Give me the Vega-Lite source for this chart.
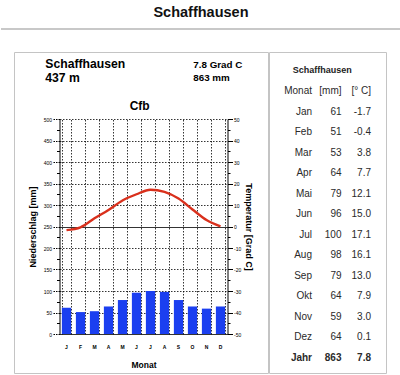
{
  "$schema": "https://vega.github.io/schema/vega-lite/v6.json",
  "padding": 0,
  "background": "white",
  "config": {
    "font": "Liberation Sans",
    "view": {"stroke": "#c4c4c4", "strokeWidth": 1},
    "locale": {"number": {"decimal": ".", "thousands": ",", "grouping": [3], "currency": ["", ""], "minus": "-"}}
  },
  "datasets": {
    "klima": [
      {"Monat": "Jan", "Niederschlag": 61, "Temperatur": -1.7},
      {"Monat": "Feb", "Niederschlag": 51, "Temperatur": -0.4},
      {"Monat": "Mar", "Niederschlag": 53, "Temperatur": 3.8},
      {"Monat": "Apr", "Niederschlag": 64, "Temperatur": 7.7},
      {"Monat": "Mai", "Niederschlag": 79, "Temperatur": 12.1},
      {"Monat": "Jun", "Niederschlag": 96, "Temperatur": 15.0},
      {"Monat": "Jul", "Niederschlag": 100, "Temperatur": 17.1},
      {"Monat": "Aug", "Niederschlag": 98, "Temperatur": 16.1},
      {"Monat": "Sep", "Niederschlag": 79, "Temperatur": 13.0},
      {"Monat": "Okt", "Niederschlag": 64, "Temperatur": 7.9},
      {"Monat": "Nov", "Niederschlag": 59, "Temperatur": 3.0},
      {"Monat": "Dez", "Niederschlag": 64, "Temperatur": 0.1}
    ],
    "info": [
      {"seite": "L", "zeile": "1", "text": "Schaffhausen"},
      {"seite": "L", "zeile": "2", "text": "437 m"},
      {"seite": "R", "zeile": "1", "text": "7.8 Grad C"},
      {"seite": "R", "zeile": "2", "text": "863 mm"}
    ]
  },
  "bounds": "flush",
  "spacing": 23,
  "vconcat": [
    {
      "width": 400,
      "height": 29,
      "view": {"stroke": null},
      "data": {"values": [{"t": "Schaffhausen"}]},
      "layer": [
        {
          "mark": {"type": "text", "fontSize": 14.5, "fontWeight": "bold", "baseline": "middle", "color": "#111"},
          "encoding": {
            "text": {"field": "t"},
            "y": {"datum": 0.552, "type": "quantitative", "scale": {"domain": [0, 1]}, "axis": null}
          }
        },
        {
          "mark": {"type": "rule", "color": "#c8c8c8", "strokeWidth": 2},
          "encoding": {
            "y": {"datum": 0, "type": "quantitative", "scale": {"domain": [0, 1]}, "axis": null}
          }
        }
      ]
    },
    {
      "bounds": "flush",
      "spacing": 1,
      "hconcat": [
        {
          "width": 12,
          "height": 321,
          "view": {"stroke": null},
          "data": {"values": []},
          "mark": {"type": "point", "opacity": 0}
        },
        {
          "width": 254,
          "height": 321,
          "title": {"text": "Cfb", "fontSize": 12, "fontWeight": "bold", "anchor": "middle", "frame": "group", "offset": -66.2, "baseline": "middle", "dx": -1.3, "color": "#000"},
          "resolve": {"scale": {"x": "independent", "y": "independent"}},
          "layer": [
            {
              "data": {"name": "klima"},
              "mark": {"type": "bar", "color": "#1b3ff0"},
              "encoding": {
                "x": {
                  "field": "Monat", "type": "nominal", "sort": null,
                  "scale": {"type": "band", "domain": ["Jan","Feb","Mar","Apr","Mai","Jun","Jul","Aug","Sep","Okt","Nov","Dez"], "range": [45.5, 213.5], "paddingInner": 0.34, "paddingOuter": 0.17},
                  "axis": {
                    "orient": "bottom", "offset": -39,
                    "title": "Monat", "titleFontSize": 8.5, "titleFontWeight": "bold", "titleColor": "#000", "titlePadding": 11,
                    "labelExpr": "substring(datum.label, 0, 1)", "labelAngle": 0, "labelFontSize": 5, "labelFontWeight": "bold", "labelColor": "#000", "labelPadding": 10,
                    "domain": false, "ticks": false, "tickSize": 0,
                    "grid": false
                  }
                },
                "y": {
                  "field": "Niederschlag", "type": "quantitative",
                  "scale": {"domain": [0, 500], "range": [282, 67], "nice": false},
                  "axis": {
                    "orient": "left", "offset": -45.5,
                    "title": "Niederschlag [mm]", "titleFontSize": 9, "titleFontWeight": "bold", "titleColor": "#000", "titlePadding": 6,
                    "values": [0,25,50,75,100,125,150,175,200,225,250,275,300,325,350,375,400,425,450,475,500],
                    "labelExpr": "datum.value % 50 === 0 ? datum.label : ''",
                    "labelFontSize": 5, "labelColor": "#000", "labelPadding": 1,
                    "tickSize": {"condition": {"test": "datum.value % 50 === 0", "value": 7}, "value": 3},
                    "tickDash": {"condition": {"test": "datum.value % 50 === 0", "value": [1.5, 1]}, "value": []},
                    "tickColor": "#000", "tickWidth": 1,
                    "domainColor": "#000", "domainWidth": 1,
                    "grid": true, "gridColor": "#000", "gridWidth": 0.8,
                    "gridOpacity": {"condition": {"test": "datum.value % 50 === 0", "value": 1}, "value": 0},
                    "gridDash": {"condition": {"test": "datum.value === 0 || datum.value === 250", "value": []}, "value": [1.5, 1.5]}
                  }
                }
              }
            },
            {
              "data": {"name": "klima"},
              "mark": {"type": "line", "color": "#d9301c", "strokeWidth": 2.4, "interpolate": "monotone"},
              "encoding": {
                "x": {
                  "field": "Monat", "type": "nominal", "sort": null,
                  "scale": {"type": "band", "domain": ["Jan","Feb","Mar","Apr","Mai","Jun","Jul","Aug","Sep","Okt","Nov","Dez"], "range": [45.5, 213.5], "paddingInner": 0.34, "paddingOuter": 0.17},
                  "axis": {
                    "orient": "top", "offset": 0, "title": null,
                    "labels": false, "ticks": false, "domain": false,
                    "grid": true, "tickBand": "extent", "gridColor": "#000", "gridDash": [1.5, 1.5], "gridWidth": 0.8, "gridOpacity": 1
                  }
                },
                "y": {
                  "field": "Temperatur", "type": "quantitative",
                  "scale": {"domain": [-50, 50], "range": [282, 67], "nice": false, "zero": false},
                  "axis": {
                    "orient": "right", "offset": -40.5,
                    "title": "Temperatur [Grad C]", "titleFontSize": 9, "titleFontWeight": "bold", "titleColor": "#000", "titlePadding": 3,
                    "values": [-50,-45,-40,-35,-30,-25,-20,-15,-10,-5,0,5,10,15,20,25,30,35,40,45,50],
                    "labelExpr": "datum.value % 10 === 0 ? datum.label : ''",
                    "labelFontSize": 5, "labelColor": "#000", "labelPadding": 1,
                    "tickSize": {"condition": {"test": "datum.value % 10 === 0", "value": 5}, "value": 2.5},
                    "tickColor": "#000", "tickWidth": 1,
                    "domainColor": "#000", "domainWidth": 1,
                    "grid": false
                  }
                }
              }
            },
            {
              "data": {"name": "info"},
              "transform": [{"filter": "datum.seite === 'L'"}],
              "mark": {"type": "text", "align": "left", "baseline": "alphabetic", "fontSize": 12.2, "fontWeight": "bold", "color": "#000"},
              "encoding": {
                "x": {"field": "seite", "type": "nominal", "scale": {"type": "point", "domain": ["L", "R"], "range": [31.3, 179.3], "padding": 0}, "axis": null},
                "y": {"field": "zeile", "type": "nominal", "scale": {"type": "point", "domain": ["1", "2"], "range": [15.7, 29.7], "padding": 0}, "axis": null},
                "text": {"field": "text"}
              }
            },
            {
              "data": {"name": "info"},
              "transform": [{"filter": "datum.seite === 'R'"}],
              "mark": {"type": "text", "align": "left", "baseline": "alphabetic", "fontSize": 9.8, "fontWeight": "bold", "color": "#000"},
              "encoding": {
                "x": {"field": "seite", "type": "nominal", "scale": {"type": "point", "domain": ["L", "R"], "range": [31.3, 179.3], "padding": 0}, "axis": null},
                "y": {"field": "zeile", "type": "nominal", "scale": {"type": "point", "domain": ["1", "2"], "range": [16.3, 28.7], "padding": 0}, "axis": null},
                "text": {"field": "text"}
              }
            }
          ]
        },
        {
          "width": 117,
          "height": 321,
          "title": {"text": "Schaffhausen", "fontSize": 9, "fontWeight": "bold", "anchor": "middle", "frame": "group", "offset": -27.4, "baseline": "middle", "dx": -5.2, "color": "#222"},
          "layer": [
            {
              "data": {"values": [
                {"spalte": "Monat", "text": "Monat"},
                {"spalte": "mm", "text": "[mm]"},
                {"spalte": "C", "text": "[° C]"}
              ]},
              "mark": {"type": "text", "align": "right", "baseline": "middle", "fontSize": 10, "color": "#2a2a2a"},
              "encoding": {
                "x": {"field": "spalte", "type": "nominal", "scale": {"type": "point", "domain": ["Monat", "mm", "C"], "range": [43, 102], "padding": 0}, "axis": null},
                "y": {"datum": "Kopf", "type": "nominal", "scale": {"type": "point", "domain": ["Titel","Kopf","Jan","Feb","Mar","Apr","Mai","Jun","Jul","Aug","Sep","Okt","Nov","Dez","Jahr"], "range": [18.7, 306], "padding": 0}, "axis": null},
                "text": {"field": "text"}
              }
            },
            {
              "data": {"name": "klima"},
              "mark": {"type": "text", "align": "right", "baseline": "middle", "fontSize": 10, "color": "#2a2a2a"},
              "encoding": {
                "x": {"datum": "Monat", "type": "nominal"},
                "y": {"field": "Monat", "type": "nominal"},
                "text": {"field": "Monat"}
              }
            },
            {
              "data": {"name": "klima"},
              "mark": {"type": "text", "align": "right", "baseline": "middle", "fontSize": 10, "color": "#2a2a2a"},
              "encoding": {
                "x": {"datum": "mm", "type": "nominal"},
                "y": {"field": "Monat", "type": "nominal"},
                "text": {"field": "Niederschlag", "type": "quantitative", "format": "d"}
              }
            },
            {
              "data": {"name": "klima"},
              "mark": {"type": "text", "align": "right", "baseline": "middle", "fontSize": 10, "color": "#2a2a2a"},
              "encoding": {
                "x": {"datum": "C", "type": "nominal"},
                "y": {"field": "Monat", "type": "nominal"},
                "text": {"field": "Temperatur", "type": "quantitative", "format": ".1f"}
              }
            },
            {
              "data": {"values": [
                {"spalte": "Monat", "text": "Jahr"},
                {"spalte": "mm", "text": "863"},
                {"spalte": "C", "text": "7.8"}
              ]},
              "mark": {"type": "text", "align": "right", "baseline": "middle", "fontSize": 10, "fontWeight": "bold", "color": "#2a2a2a"},
              "encoding": {
                "x": {"field": "spalte", "type": "nominal"},
                "y": {"datum": "Jahr", "type": "nominal"},
                "text": {"field": "text"}
              }
            }
          ]
        }
      ]
    }
  ]
}
